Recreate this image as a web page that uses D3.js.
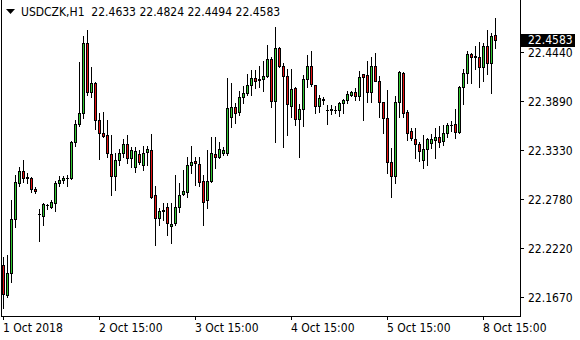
<!DOCTYPE html>
<html>
<head>
<meta charset="utf-8">
<script src="https://cdn.jsdelivr.net/npm/d3@7"></script>
<style>
body { margin: 0; background: #fff; }
svg { display: block; font-family: "DejaVu Sans Condensed", "DejaVu Sans", sans-serif; font-size: 12px; }
</style>
</head>
<body>
<svg id="chart" width="580" height="340"></svg>
<script>
var symbol = "USDCZK,H1";

// hourly candles, 1 Oct 15:00 .. 8 Oct 18:00
var opens = [22.2029,22.1689,22.1939,22.2551,22.2959,22.3095,22.3021,22.3015,22.2891,22.2608,
  22.2585,22.2704,22.2690,22.2732,22.2959,22.2987,22.3015,22.3015,22.3423,22.3628,
  22.3752,22.4549,22.3994,22.4089,22.3673,22.3529,22.3503,22.3288,22.3038,22.3220,
  22.3296,22.3397,22.3239,22.3137,22.3288,22.3163,22.3314,22.3333,22.2823,22.2559,
  22.2645,22.2683,22.2472,22.2503,22.2683,22.2831,22.2860,22.3163,22.3209,22.3175,
  22.2982,22.2766,22.2985,22.3288,22.3257,22.3296,22.3303,22.3703,22.3817,22.3767,
  22.3937,22.3976,22.4069,22.4146,22.4134,22.4134,22.4172,22.4361,22.3892,22.4486,
  22.4289,22.4175,22.3835,22.4032,22.3681,22.3794,22.4138,22.4285,22.4070,22.3832,
  22.3908,22.3790,22.3794,22.3786,22.3786,22.3869,22.3900,22.3960,22.3990,22.3945,
  22.4191,22.4183,22.3994,22.4285,22.4118,22.3874,22.3692,22.3194,22.3038,22.3880,
  22.4202,22.3760,22.3548,22.3458,22.3397,22.3220,22.3344,22.3409,22.3446,22.3477,
  22.3438,22.3522,22.3616,22.3624,22.3541,22.4044,22.4209,22.4418,22.4390,22.4384,
  22.4270,22.4512,22.4322,22.4633];
var highs = [22.2121,22.2143,22.2766,22.3049,22.3141,22.3220,22.3072,22.3027,22.2914,22.2664,
  22.2732,22.2721,22.2766,22.2982,22.3038,22.3038,22.3049,22.3435,22.3673,22.4330,
  22.4625,22.4693,22.4277,22.4103,22.3755,22.3767,22.3673,22.3503,22.3296,22.3341,
  22.3455,22.3503,22.3370,22.3363,22.3333,22.3378,22.3378,22.3514,22.2925,22.2672,
  22.2729,22.2729,22.2729,22.3049,22.2955,22.3106,22.3257,22.3378,22.3257,22.3257,
  22.3049,22.3333,22.3477,22.3484,22.3427,22.3363,22.4146,22.4089,22.3862,22.4005,
  22.4058,22.4195,22.4240,22.4240,22.4285,22.4345,22.4523,22.4387,22.4723,22.4501,
  22.4316,22.4248,22.4248,22.4050,22.3855,22.4183,22.4410,22.4455,22.4070,22.3956,
  22.3937,22.3843,22.3843,22.3832,22.3880,22.3911,22.4005,22.4005,22.4032,22.4232,
  22.4195,22.4342,22.4391,22.4429,22.4172,22.3877,22.4013,22.3352,22.3945,22.4228,
  22.4220,22.3786,22.3579,22.3579,22.3427,22.3503,22.3465,22.3511,22.3579,22.3605,
  22.3616,22.3642,22.3662,22.3794,22.4058,22.4251,22.4455,22.4429,22.4508,22.4560,
  22.4549,22.4693,22.4655,22.4824];
var lows = [22.1542,22.1667,22.1837,22.2461,22.2925,22.2970,22.2959,22.2857,22.2846,22.2302,
  22.2483,22.2664,22.2675,22.2642,22.2925,22.2959,22.2925,22.3004,22.3378,22.3605,
  22.3695,22.3956,22.3937,22.3571,22.3228,22.3481,22.3257,22.2823,22.2880,22.3163,
  22.3257,22.3183,22.3144,22.3087,22.3175,22.3106,22.3163,22.2786,22.2256,22.2483,
  22.2540,22.2369,22.2276,22.2483,22.2634,22.2823,22.2804,22.3069,22.2936,22.2925,
  22.2483,22.2679,22.2974,22.3126,22.3239,22.3276,22.3276,22.3590,22.3642,22.3730,
  22.3862,22.3956,22.3956,22.4032,22.4050,22.4005,22.4157,22.3824,22.3427,22.4274,
  22.3370,22.3503,22.3710,22.3616,22.3251,22.3605,22.4050,22.4058,22.3755,22.3767,
  22.3855,22.3624,22.3737,22.3755,22.3722,22.3755,22.3862,22.3945,22.3900,22.3900,
  22.3673,22.3880,22.3880,22.4115,22.3710,22.3529,22.3069,22.2797,22.2962,22.3710,
  22.3710,22.3446,22.3446,22.3239,22.3212,22.3126,22.3163,22.3352,22.3239,22.3363,
  22.3390,22.3484,22.3552,22.3472,22.3529,22.3851,22.4096,22.4089,22.4251,22.4041,
  22.4118,22.4191,22.3982,22.4494];
var closes = [22.1701,22.1939,22.2551,22.2970,22.3095,22.3015,22.3015,22.2891,22.2863,22.2602,
  22.2721,22.2709,22.2743,22.2959,22.2993,22.3012,22.3018,22.3423,22.3628,22.3752,
  22.4549,22.3994,22.4089,22.3673,22.3529,22.3495,22.3296,22.3038,22.3220,22.3303,
  22.3397,22.3239,22.3333,22.3322,22.3201,22.3303,22.3341,22.2797,22.2559,22.2642,
  22.2648,22.2503,22.2491,22.2683,22.2823,22.2869,22.3163,22.3201,22.3183,22.2974,
  22.2747,22.2982,22.3303,22.3257,22.3341,22.3333,22.3806,22.3817,22.3755,22.3937,
  22.3976,22.4070,22.4146,22.4118,22.4131,22.4172,22.4361,22.3892,22.4486,22.4289,
  22.4175,22.3851,22.4024,22.3681,22.3794,22.4138,22.4285,22.4078,22.3832,22.3919,
  22.3904,22.3786,22.3791,22.3783,22.3862,22.3900,22.3968,22.3990,22.3945,22.4157,
  22.4157,22.3994,22.4285,22.4118,22.3874,22.3692,22.3201,22.3038,22.3874,22.4213,
  22.3755,22.3529,22.3472,22.3397,22.3322,22.3344,22.3458,22.3458,22.3477,22.3427,
  22.3522,22.3616,22.3620,22.3541,22.4044,22.4202,22.4418,22.4384,22.4394,22.4268,
  22.4512,22.4322,22.4625,22.4583];

var priceTicks = [22.4440, 22.3890, 22.3330, 22.2780, 22.2220, 22.1670];
var timeTickBars = [0, 24, 48, 72, 96, 120];
var timeLabels = ["1 Oct 2018", "2 Oct 15:00", "3 Oct 15:00", "4 Oct 15:00", "5 Oct 15:00", "8 Oct 15:00"];

var bullColor = "#32c832";
var bearColor = "#e41212";

var svg = d3.select("#chart");
var n = opens.length;
var last = n - 1;

var x = d3.scaleLinear().domain([0, last]).range([3, 495]);
var y = d3.scaleLinear().domain([22.1451, 22.5010]).range([316, 2]);

// frame
svg.append("path")
    .attr("d", "M1.5,0 V316.5 H520.5 V0")
    .attr("fill", "none").attr("stroke", "#000")
    .attr("shape-rendering", "crispEdges");

var g = svg.append("g").attr("shape-rendering", "crispEdges");
var bars = d3.range(n);

// wicks
g.selectAll("line.wick").data(bars).enter().append("line")
    .attr("class", "wick")
    .attr("x1", function(i) { return Math.round(x(i)) + 0.5; })
    .attr("x2", function(i) { return Math.round(x(i)) + 0.5; })
    .attr("y1", function(i) { return Math.round(y(highs[i])); })
    .attr("y2", function(i) { return Math.round(y(lows[i])) + 1; })
    .attr("stroke", "#000");

// bodies
g.selectAll("path.body").data(bars).enter().append("path")
    .attr("class", "body")
    .attr("d", function(i) {
        var c = Math.round(x(i));
        var top = Math.round(y(Math.max(opens[i], closes[i])));
        var bot = Math.round(y(Math.min(opens[i], closes[i])));
        if (bot <= top) return "M" + (c - 1) + "," + (top + 0.5) + "H" + (c + 2);
        return "M" + (c - 0.5) + "," + (top + 0.5) + "H" + (c + 1.5) + "V" + (bot + 0.5) + "H" + (c - 0.5) + "Z";
    })
    .attr("fill", function(i) { return closes[i] >= opens[i] ? bullColor : bearColor; })
    .attr("stroke", "#000");

// price axis
var py = svg.append("g");
py.selectAll("line").data(priceTicks).enter().append("line")
    .attr("x1", 521).attr("x2", 524)
    .attr("y1", function(d) { return Math.round(y(d)) + 0.5; })
    .attr("y2", function(d) { return Math.round(y(d)) + 0.5; })
    .attr("stroke", "#000").attr("shape-rendering", "crispEdges");
py.selectAll("text").data(priceTicks).enter().append("text")
    .attr("x", 528)
    .attr("y", function(d) { return Math.round(y(d)) + 5; })
    .attr("fill", "#000")
    .text(function(d) { return d.toFixed(4); });

// current price label
var lastY = Math.round(y(closes[last]));
svg.append("rect")
    .attr("x", 521).attr("y", lastY - 6).attr("width", 54).attr("height", 13)
    .attr("fill", "#000");
svg.append("text")
    .attr("x", 528).attr("y", lastY + 4)
    .attr("fill", "#fff")
    .text(closes[last].toFixed(4));

// time axis
var tx = svg.append("g");
tx.selectAll("line").data(timeTickBars).enter().append("line")
    .attr("x1", function(d) { return Math.round(x(d)) + 0.5; })
    .attr("x2", function(d) { return Math.round(x(d)) + 0.5; })
    .attr("y1", 317).attr("y2", 320)
    .attr("stroke", "#000").attr("shape-rendering", "crispEdges");
tx.selectAll("text").data(timeTickBars).enter().append("text")
    .attr("x", function(d) { return Math.round(x(d)); })
    .attr("y", 332)
    .attr("fill", "#000")
    .text(function(d, k) { return timeLabels[k]; });

// title
svg.append("path").attr("d", "M6,9 H15 L10.5,14 Z").attr("fill", "#000");
svg.append("text")
    .attr("x", 21).attr("y", 16)
    .attr("fill", "#000")
    .attr("xml:space", "preserve")
    .style("white-space", "pre")
    .text(symbol + "  " + [opens[last], highs[last], lows[last], closes[last]].map(function(v) { return v.toFixed(4); }).join(" "));
</script>
</body>
</html>
